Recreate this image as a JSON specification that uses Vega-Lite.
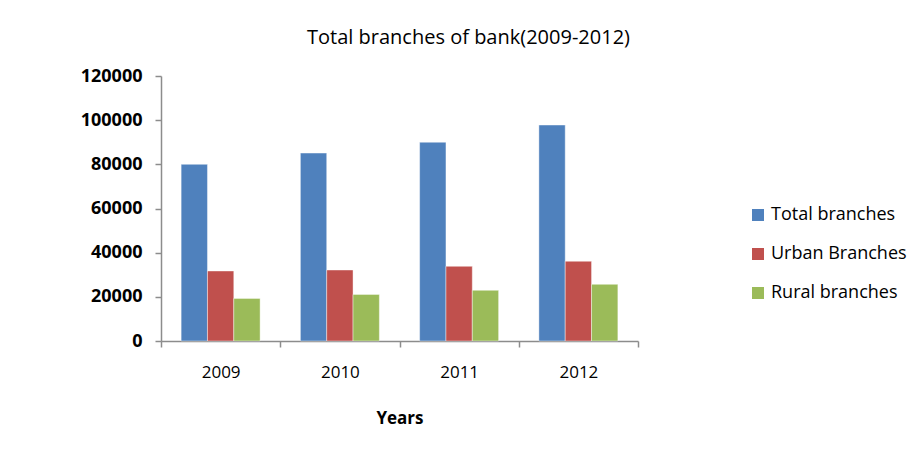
{
  "$schema": "https://vega.github.io/schema/vega-lite/v6.json",
  "width": 477,
  "height": 265,
  "autosize": {"type": "none"},
  "padding": {"left": 161, "top": 76, "right": 276, "bottom": 113},
  "background": "#ffffff",
  "title": {
    "text": "Total branches of bank(2009-2012)",
    "font": "Open Sans",
    "fontSize": 20,
    "fontWeight": "normal",
    "color": "#000000",
    "anchor": "middle",
    "dx": 69,
    "offset": 19
  },
  "data": {
    "values": [
      {"year": "2009", "series": "Total branches", "value": 80000},
      {"year": "2009", "series": "Urban Branches", "value": 31700},
      {"year": "2009", "series": "Rural branches", "value": 19300},
      {"year": "2010", "series": "Total branches", "value": 85100},
      {"year": "2010", "series": "Urban Branches", "value": 32150},
      {"year": "2010", "series": "Rural branches", "value": 21100},
      {"year": "2011", "series": "Total branches", "value": 90000},
      {"year": "2011", "series": "Urban Branches", "value": 33800},
      {"year": "2011", "series": "Rural branches", "value": 22950},
      {"year": "2012", "series": "Total branches", "value": 97800},
      {"year": "2012", "series": "Urban Branches", "value": 36100},
      {"year": "2012", "series": "Rural branches", "value": 25650}
    ]
  },
  "mark": {"type": "bar", "stroke": "#ffffff", "strokeWidth": 0.6, "strokeOpacity": 0.7},
  "encoding": {
    "x": {
      "field": "year",
      "type": "nominal",
      "scale": {"paddingInner": 0, "paddingOuter": 0},
      "axis": {
        "title": "Years",
        "titleFont": "Open Sans",
        "titleFontSize": 17,
        "titleFontWeight": "bold",
        "titleColor": "#000000",
        "titlePadding": 30,
        "labelFont": "Open Sans",
        "labelFontSize": 17,
        "labelFontWeight": "normal",
        "labelColor": "#000000",
        "labelAngle": 0,
        "labelPadding": 17,
        "tickBand": "extent",
        "tickSize": 6,
        "tickColor": "#8c8c8c",
        "tickWidth": 1.5,
        "domainColor": "#8c8c8c",
        "domainWidth": 1.5
      }
    },
    "xOffset": {
      "field": "series",
      "type": "nominal",
      "sort": ["Total branches", "Urban Branches", "Rural branches"],
      "scale": {"paddingInner": 0, "paddingOuter": 0.765}
    },
    "y": {
      "field": "value",
      "type": "quantitative",
      "scale": {"domain": [0, 120000], "nice": false},
      "axis": {
        "title": null,
        "values": [0, 20000, 40000, 60000, 80000, 100000, 120000],
        "format": "d",
        "grid": false,
        "labelFont": "Open Sans",
        "labelFontSize": 18,
        "labelFontWeight": "bold",
        "labelColor": "#000000",
        "labelPadding": 13,
        "tickSize": 6,
        "tickColor": "#8c8c8c",
        "tickWidth": 1.5,
        "domainColor": "#8c8c8c",
        "domainWidth": 1.5
      }
    },
    "color": {
      "field": "series",
      "type": "nominal",
      "sort": ["Total branches", "Urban Branches", "Rural branches"],
      "scale": {
        "domain": ["Total branches", "Urban Branches", "Rural branches"],
        "range": ["#4F81BD", "#C0504D", "#9BBB59"]
      },
      "legend": {
        "title": null,
        "orient": "none",
        "legendX": 588,
        "legendY": 130,
        "symbolType": "square",
        "symbolSize": 144,
        "symbolStrokeWidth": 0,
        "labelFont": "Open Sans",
        "labelFontSize": 18,
        "labelColor": "#000000",
        "labelOffset": 4,
        "rowPadding": 21,
        "labelLimit": 300
      }
    }
  },
  "config": {
    "view": {"stroke": null}
  }
}
